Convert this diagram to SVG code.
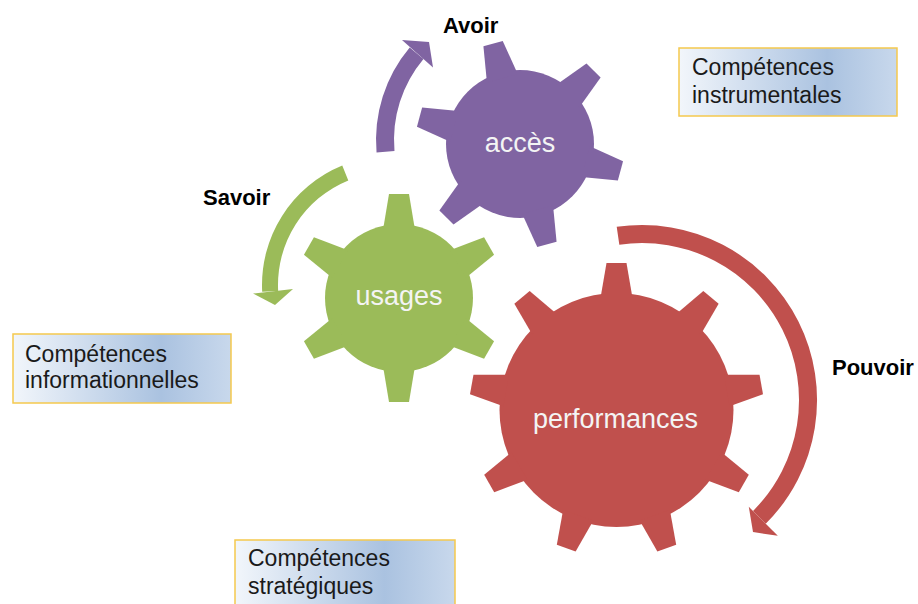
<svg xmlns="http://www.w3.org/2000/svg" xmlns:xlink="http://www.w3.org/1999/xlink" width="918" height="604" viewBox="0 0 918 604">
<defs>
<style>
.gtxt{font-family:"Liberation Sans",Arial,sans-serif;font-size:27px;fill:#f4f4f4;text-anchor:middle}
.lbl{font-family:"Liberation Sans",Arial,sans-serif;font-size:22px;font-weight:bold;fill:#000}
.btxt{font-family:"Liberation Sans",Arial,sans-serif;font-size:23px;fill:#1a1a1a}
.box{fill:url(#boxg);stroke:#f5c94e;stroke-width:1.5}
.purple{fill:#8064a2}
.green{fill:#9bbb59}
.red{fill:#c0504d}
</style>
<linearGradient id="boxg" x1="0" y1="0" x2="1" y2="0">
<stop offset="0" stop-color="#f2f6fb"/>
<stop offset="0.68" stop-color="#aac2e0"/>
<stop offset="1" stop-color="#c8d8ec"/>
</linearGradient>
<polygon id="toothS" points="-16,-68 -10,-104 10,-104 16,-68"/>
<polygon id="toothL" points="-16,-112 -10,-147 10,-147 16,-112"/>
</defs>
<rect width="918" height="604" fill="#fff"/>

<g id="connectors">
<g id="arrow-avoir" class="purple">
<path d="M376.55,152.55 A144,144 0 0 1 409.69,47.44 L423.48,59.01 A126,126 0 0 0 394.48,150.98 Z"/>
<polygon points="402,40 429,42 433,67.5"/>
</g>
<g id="arrow-savoir" class="green">
<path d="M342.26,165.56 A129,129 0 0 0 262.18,291.75 L278.15,290.91 A113,113 0 0 1 348.30,180.38 Z"/>
<polygon points="253,293.5 275,305 293,289"/>
</g>
<g id="arrow-pouvoir" class="red">
<path d="M616.7,226.8 A175,175 0 0 1 765.74,523.74 L753.02,511.02 A157,157 0 0 0 619.33,244.65 Z"/>
<polygon points="748.8,506.8 753,532 777.8,535.8"/>
</g>
</g>

<g id="gear-acces" class="purple" transform="translate(520,144)">
<circle r="74"/>
<use xlink:href="#toothS" transform="rotate(-15)"/>
<use xlink:href="#toothS" transform="rotate(45)"/>
<use xlink:href="#toothS" transform="rotate(105)"/>
<use xlink:href="#toothS" transform="rotate(165)"/>
<use xlink:href="#toothS" transform="rotate(225)"/>
<use xlink:href="#toothS" transform="rotate(285)"/>
<text class="gtxt" x="0" y="8">accès</text>
</g>

<g id="gear-usages" class="green" transform="translate(399,298)">
<circle r="74"/>
<use xlink:href="#toothS" transform="rotate(0)"/>
<use xlink:href="#toothS" transform="rotate(60)"/>
<use xlink:href="#toothS" transform="rotate(120)"/>
<use xlink:href="#toothS" transform="rotate(180)"/>
<use xlink:href="#toothS" transform="rotate(240)"/>
<use xlink:href="#toothS" transform="rotate(300)"/>
<text class="gtxt" x="0" y="7">usages</text>
</g>

<g id="gear-performances" class="red" transform="translate(616.5,410)">
<circle r="117"/>
<use xlink:href="#toothL" transform="rotate(0)"/>
<use xlink:href="#toothL" transform="rotate(40)"/>
<use xlink:href="#toothL" transform="rotate(80)"/>
<use xlink:href="#toothL" transform="rotate(120)"/>
<use xlink:href="#toothL" transform="rotate(160)"/>
<use xlink:href="#toothL" transform="rotate(200)"/>
<use xlink:href="#toothL" transform="rotate(240)"/>
<use xlink:href="#toothL" transform="rotate(280)"/>
<use xlink:href="#toothL" transform="rotate(320)"/>
<text class="gtxt" x="-1" y="18">performances</text>
</g>

<g id="label-avoir"><text class="lbl" x="443" y="33">Avoir</text></g>
<g id="label-savoir"><text class="lbl" x="203" y="205">Savoir</text></g>
<g id="label-pouvoir"><text class="lbl" x="832" y="375">Pouvoir</text></g>

<g id="box-instrumentales">
<rect class="box" x="679" y="48" width="218" height="68"/>
<text class="btxt" x="692" y="75">Compétences</text>
<text class="btxt" x="692" y="103">instrumentales</text>
</g>
<g id="box-informationnelles">
<rect class="box" x="13" y="334" width="218" height="69"/>
<text class="btxt" x="25" y="361.5">Compétences</text>
<text class="btxt" x="25" y="388">informationnelles</text>
</g>
<g id="box-strategiques">
<rect class="box" x="235" y="540" width="220" height="72"/>
<text class="btxt" x="248" y="566">Compétences</text>
<text class="btxt" x="248" y="594">stratégiques</text>
</g>
</svg>
